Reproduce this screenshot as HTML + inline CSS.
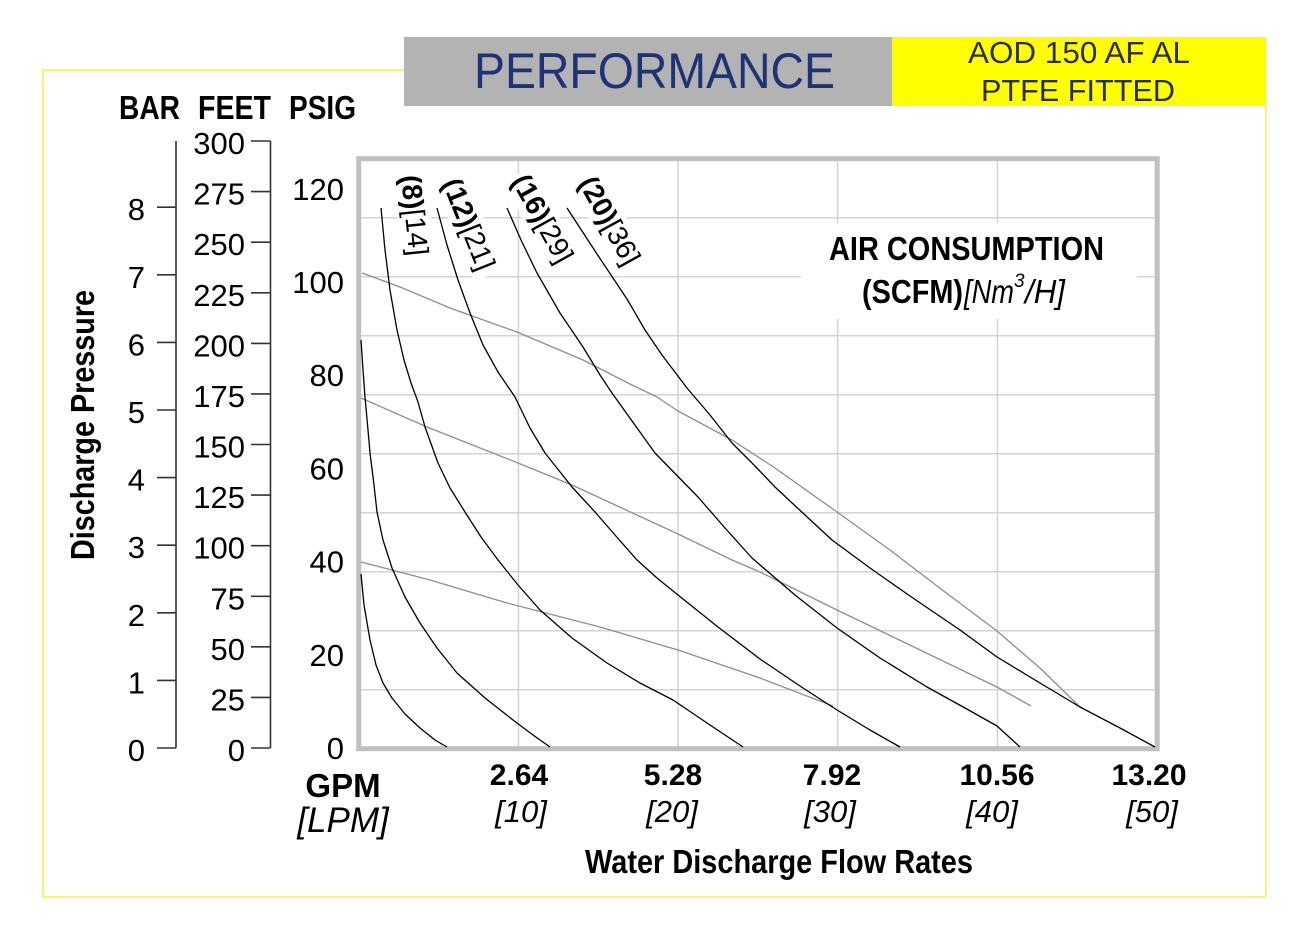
<!DOCTYPE html>
<html>
<head>
<meta charset="utf-8">
<style>
  html,body{margin:0;padding:0;background:#fff;}
  svg{display:block;}
  text{font-family:"Liberation Sans", Arial, sans-serif;}
</style>
</head>
<body>
<svg width="1296" height="934" viewBox="0 0 1296 934" xmlns="http://www.w3.org/2000/svg">
  <rect x="0" y="0" width="1296" height="934" fill="#ffffff"/>

  <!-- outer yellow frame -->
  <polyline points="404,70 43,70 43,897 1266,897 1266,106" fill="none" stroke="#f7f27a" stroke-width="2"/>

  <!-- header boxes -->
  <rect x="404" y="37" width="488" height="69" fill="#b3b3b3"/>
  <rect x="892" y="37" width="374" height="69" fill="#ffff00"/>
  <text x="474" y="88" font-size="50" fill="#1f3275" textLength="361" lengthAdjust="spacingAndGlyphs">PERFORMANCE</text>
  <text x="968" y="63" font-size="31" fill="#2a2c38" textLength="222" lengthAdjust="spacingAndGlyphs">AOD 150 AF AL</text>
  <text x="981" y="101" font-size="31" fill="#2a2c38" textLength="194" lengthAdjust="spacingAndGlyphs">PTFE FITTED</text>

  <!-- axis headers -->
  <text x="119" y="119" font-size="33" font-weight="bold" textLength="61" lengthAdjust="spacingAndGlyphs">BAR</text>
  <text x="198" y="119" font-size="33" font-weight="bold" textLength="73" lengthAdjust="spacingAndGlyphs">FEET</text>
  <text x="289" y="119" font-size="33" font-weight="bold" textLength="67" lengthAdjust="spacingAndGlyphs">PSIG</text>

  <!-- Discharge Pressure -->
  <text transform="translate(94,425) rotate(-90)" text-anchor="middle" font-size="33" font-weight="bold" textLength="270" lengthAdjust="spacingAndGlyphs">Discharge Pressure</text>

  <!-- BAR axis -->
  <g stroke="#333" stroke-width="1.6" fill="none">
    <line x1="176" y1="141" x2="176" y2="748"/>
    <line x1="157" y1="748" x2="176" y2="748"/>
    <line x1="157" y1="680.4" x2="176" y2="680.4"/>
    <line x1="157" y1="612.8" x2="176" y2="612.8"/>
    <line x1="157" y1="545.2" x2="176" y2="545.2"/>
    <line x1="157" y1="477.6" x2="176" y2="477.6"/>
    <line x1="157" y1="410" x2="176" y2="410"/>
    <line x1="157" y1="342.4" x2="176" y2="342.4"/>
    <line x1="157" y1="274.8" x2="176" y2="274.8"/>
    <line x1="157" y1="207.2" x2="176" y2="207.2"/>
  </g>
  <g font-size="31" text-anchor="end" fill="#000">
    <text x="145" y="761">0</text>
    <text x="145" y="693.4">1</text>
    <text x="145" y="625.8">2</text>
    <text x="145" y="558.2">3</text>
    <text x="145" y="490.6">4</text>
    <text x="145" y="423">5</text>
    <text x="145" y="355.4">6</text>
    <text x="145" y="287.8">7</text>
    <text x="145" y="220.2">8</text>
  </g>

  <!-- FEET axis -->
  <g stroke="#333" stroke-width="1.6" fill="none">
    <line x1="270.5" y1="141" x2="270.5" y2="748"/>
    <line x1="251" y1="748" x2="270.5" y2="748"/>
    <line x1="251" y1="697.4" x2="270.5" y2="697.4"/>
    <line x1="251" y1="646.8" x2="270.5" y2="646.8"/>
    <line x1="251" y1="596.3" x2="270.5" y2="596.3"/>
    <line x1="251" y1="545.7" x2="270.5" y2="545.7"/>
    <line x1="251" y1="495.1" x2="270.5" y2="495.1"/>
    <line x1="251" y1="444.5" x2="270.5" y2="444.5"/>
    <line x1="251" y1="393.9" x2="270.5" y2="393.9"/>
    <line x1="251" y1="343.4" x2="270.5" y2="343.4"/>
    <line x1="251" y1="292.8" x2="270.5" y2="292.8"/>
    <line x1="251" y1="242.2" x2="270.5" y2="242.2"/>
    <line x1="251" y1="191.6" x2="270.5" y2="191.6"/>
    <line x1="251" y1="141" x2="270.5" y2="141"/>
  </g>
  <g font-size="31" text-anchor="end" fill="#000">
    <text x="245" y="761">0</text>
    <text x="245" y="710.4">25</text>
    <text x="245" y="659.8">50</text>
    <text x="245" y="609.3">75</text>
    <text x="245" y="558.7">100</text>
    <text x="245" y="508.1">125</text>
    <text x="245" y="457.5">150</text>
    <text x="245" y="406.9">175</text>
    <text x="245" y="356.4">200</text>
    <text x="245" y="305.8">225</text>
    <text x="245" y="255.2">250</text>
    <text x="245" y="204.6">275</text>
    <text x="245" y="154">300</text>
  </g>

  <!-- PSIG labels -->
  <g font-size="31" text-anchor="end" fill="#000">
    <text x="344" y="759">0</text>
    <text x="344" y="666">20</text>
    <text x="344" y="572.6">40</text>
    <text x="344" y="479.4">60</text>
    <text x="344" y="386.2">80</text>
    <text x="344" y="293">100</text>
    <text x="344" y="200">120</text>
  </g>

  <!-- grid -->
  <g stroke="#d3d3d3" stroke-width="1.5">
    <line x1="518.4" y1="159" x2="518.4" y2="748"/>
    <line x1="678" y1="159" x2="678" y2="748"/>
    <line x1="837.7" y1="159" x2="837.7" y2="748"/>
    <line x1="997.4" y1="159" x2="997.4" y2="748"/>
    <line x1="359" y1="217.7" x2="1157" y2="217.7"/>
    <line x1="359" y1="276.7" x2="1157" y2="276.7"/>
    <line x1="359" y1="335.7" x2="1157" y2="335.7"/>
    <line x1="359" y1="394.7" x2="1157" y2="394.7"/>
    <line x1="359" y1="453.7" x2="1157" y2="453.7"/>
    <line x1="359" y1="512.7" x2="1157" y2="512.7"/>
    <line x1="359" y1="571.7" x2="1157" y2="571.7"/>
    <line x1="359" y1="630.7" x2="1157" y2="630.7"/>
    <line x1="359" y1="689.7" x2="1157" y2="689.7"/>
  </g>

  <!-- white label backgrounds -->
  <rect x="801" y="223" width="336" height="96" fill="#fff"/>
  <g fill="#fff">
    <rect transform="translate(402,177) rotate(84)" x="-4" y="-25" width="92" height="33"/>
    <rect transform="translate(443,184) rotate(68)" x="-4" y="-25" width="106" height="33"/>
    <rect transform="translate(512,182) rotate(61)" x="-4" y="-25" width="106" height="33"/>
    <rect transform="translate(579,184) rotate(61)" x="-4" y="-25" width="106" height="33"/>
  </g>

  <!-- plot frame -->
  <rect x="358.7" y="158.7" width="798.5" height="590" fill="none" stroke="#c0c0c0" stroke-width="5"/>

  <!-- air consumption gray lines -->
  <g fill="none" stroke="#8e8e8e" stroke-width="1.3" stroke-linejoin="round">
    <polyline points="362,273 400,287 450,308 517,332 583,360 628,383 657,397 678,411 732,440 775,468 837,512 890,550 937,586 997,631 1040,668 1080,707"/>
    <polyline points="361,398 427,427 518,463 572,485 678,534 732,560 760,572 837,610 997,687 1031,706"/>
    <polyline points="361,562 430,580 507,603 600,627 678,650 760,678 833,706"/>
  </g>

  <!-- performance curves -->
  <g fill="none" stroke="#000" stroke-width="1.3" stroke-linejoin="round">
    <polyline points="361,574 364,605 370,640 376,665 383,683 392,698 405,714 420,728 435,740 447,747"/>
    <polyline points="361,340 363,370 365,397 368,430 370,453 374,485 377,512 383,540 392,568 405,597 420,623 437,648 457,673 485,698 513,720 533,735 550,747"/>
    <polyline points="381,208 385,250 390,290 397,330 404,360 411,383 418,402 425,427 438,463 450,488 465,512 481,537 498,560 518,585 540,610 572,638 607,663 640,683 673,700 710,725 743,747"/>
    <polyline points="437,208 447,245 458,280 470,313 483,345 498,372 515,397 530,428 545,453 572,487 595,512 615,535 637,560 657,578 678,595 718,627 760,659 800,686 837,710 870,730 900,747"/>
    <polyline points="507,208 521,240 537,273 560,313 583,347 600,375 612,393 622,407 655,453 698,497 725,528 752,558 795,595 837,628 880,658 927,687 965,708 997,726 1020,747"/>
    <polyline points="567,208 597,254 627,299 645,330 662,355 687,388 710,415 732,443 755,466 775,487 805,515 832,540 870,568 910,596 960,630 997,657 1040,683 1080,707 1120,728 1155,747"/>
  </g>

  <!-- curve labels -->
  <g font-size="28" fill="#000">
    <text transform="translate(401,176) rotate(84)"><tspan font-weight="bold">(8)</tspan><tspan>[14]</tspan></text>
    <text transform="translate(442,183) rotate(68)"><tspan font-weight="bold">(12)</tspan><tspan>[21]</tspan></text>
    <text transform="translate(511,181) rotate(61)"><tspan font-weight="bold">(16)</tspan><tspan>[29]</tspan></text>
    <text transform="translate(578,183) rotate(61)"><tspan font-weight="bold">(20)</tspan><tspan>[36]</tspan></text>
  </g>

  <!-- AIR CONSUMPTION -->
  <text x="829" y="260" font-size="33" font-weight="bold" textLength="275" lengthAdjust="spacingAndGlyphs">AIR CONSUMPTION</text>
  <text x="862" y="303" font-size="33" font-weight="bold" textLength="101" lengthAdjust="spacingAndGlyphs">(SCFM)</text>
  <text x="964" y="303" font-size="33" font-style="italic" textLength="50" lengthAdjust="spacingAndGlyphs">[Nm</text>
  <text x="1014" y="287" font-size="19" font-style="italic">3</text>
  <text x="1025" y="303" font-size="33" font-style="italic" textLength="40" lengthAdjust="spacingAndGlyphs">/H]</text>

  <!-- x axis labels -->
  <text x="343" y="797" font-size="33" font-weight="bold" text-anchor="middle">GPM</text>
  <text x="343" y="832" font-size="35" font-style="italic" text-anchor="middle">[LPM]</text>

  <g font-size="30" font-weight="bold" text-anchor="middle">
    <text x="519" y="785">2.64</text>
    <text x="673" y="785">5.28</text>
    <text x="832" y="785">7.92</text>
    <text x="997" y="785">10.56</text>
    <text x="1149" y="785">13.20</text>
  </g>
  <g font-size="31" font-style="italic" text-anchor="middle">
    <text x="521" y="822">[10]</text>
    <text x="672" y="822">[20]</text>
    <text x="830" y="822">[30]</text>
    <text x="992" y="822">[40]</text>
    <text x="1152" y="822">[50]</text>
  </g>

  <text x="585" y="873" font-size="33" font-weight="bold" textLength="388" lengthAdjust="spacingAndGlyphs">Water Discharge Flow Rates</text>
</svg>
</body>
</html>
